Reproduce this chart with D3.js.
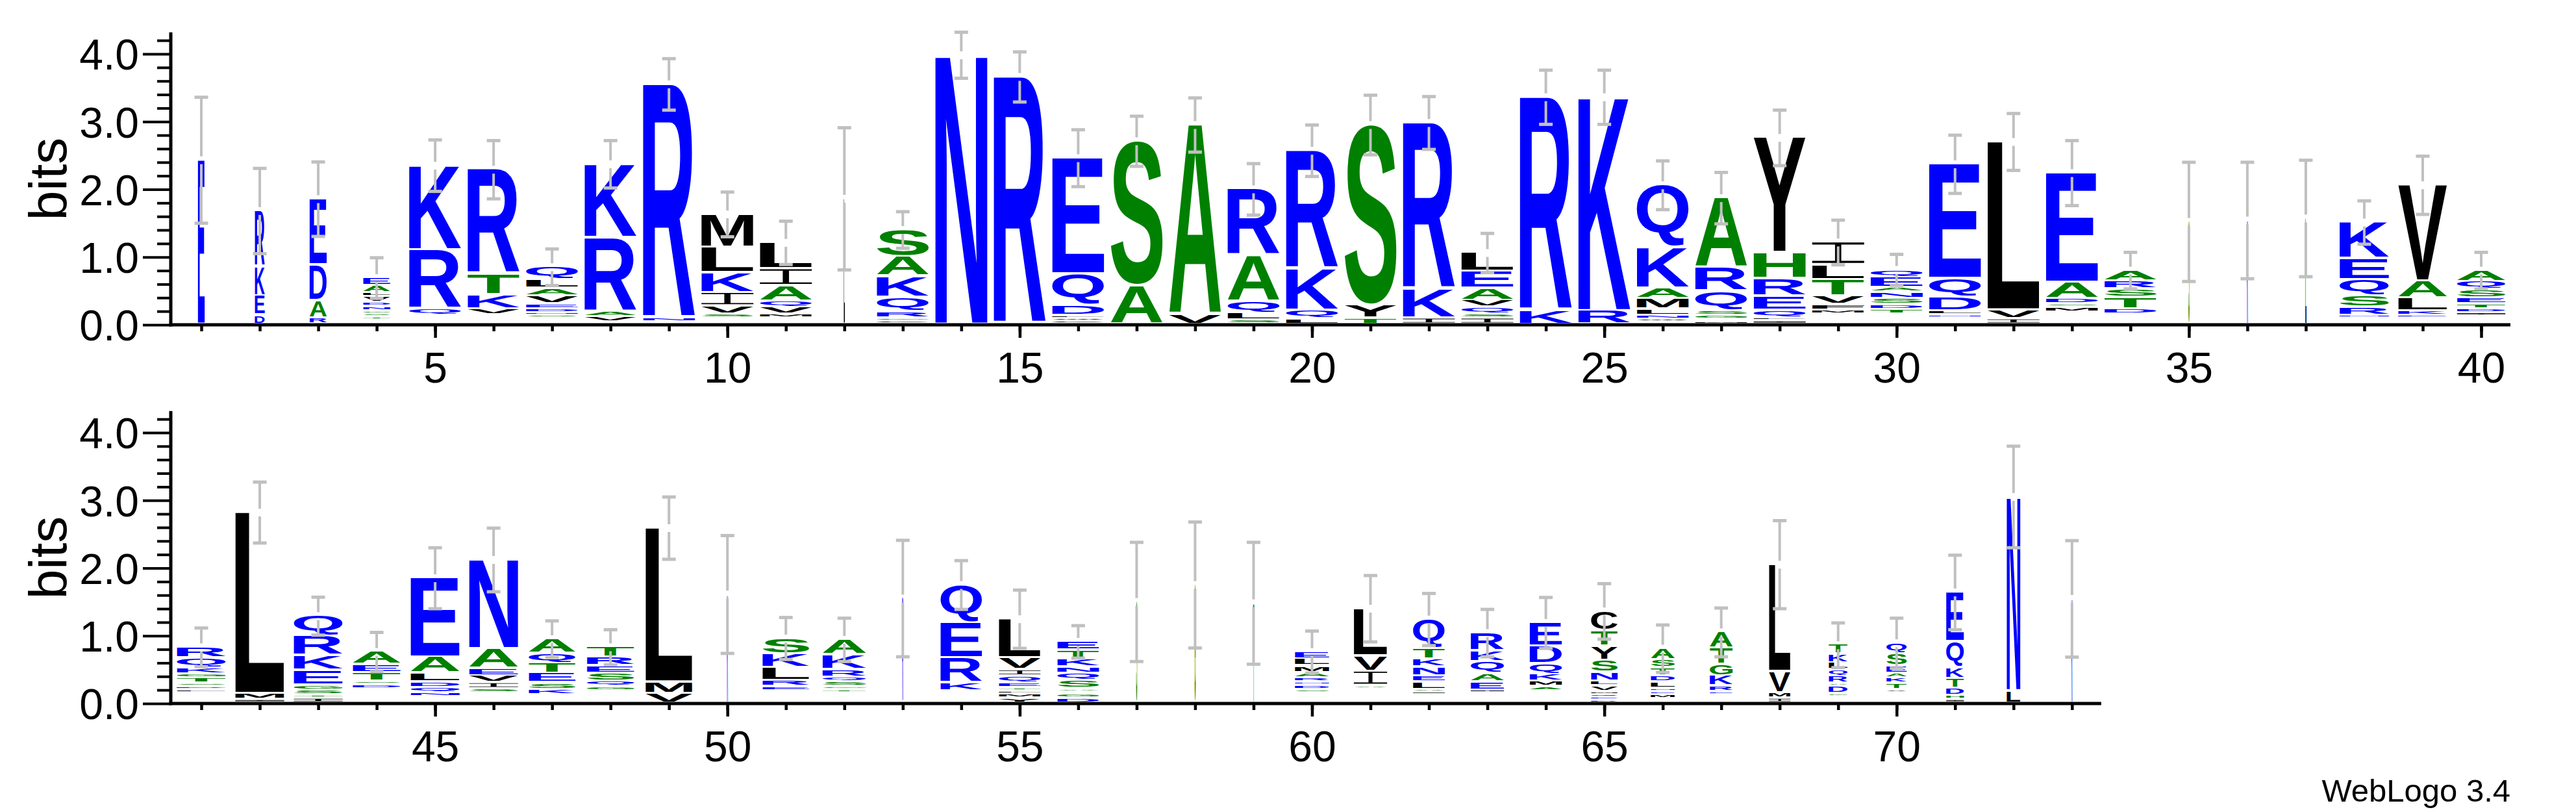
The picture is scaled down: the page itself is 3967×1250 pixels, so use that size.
<!DOCTYPE html>
<html>
<head>
<meta charset="utf-8">
<script src="https://cdn.jsdelivr.net/npm/d3@7"></script>
<style>
    body { margin: 0; background: #fff; }
    svg text { font-family: "Liberation Sans", Arial, sans-serif; }
</style>
</head>
<body>
<div id="data-visualisation"></div>
<script>
//
// Sequence logo (WebLogo style), two rows of positions
//

// Letters of each column, bottom to top
const stackLetters = [
    "E", "DEKR", "RADE", "CWTSGNDVLAE", "CWFPQRK", "CWFPVKTR", "CWPSNDEVALQ", "CVARK", "CNR", "CWFSVIKLM",
    "CWFMVQAIL", "L", "CGRQKAS", "N", "R", "CWLDQE", "AS", "VA", "SLQAR", "LQKR",
    "TYS", "IKR", "ISQVAEL", "KR", "RK", "CWNLMAKQ", "MIGSQRA", "ILQERHY", "CWPHGMFVTLI", "CWPHGTDSNAEQ",
    "CWPNLDQE", "IVL", "CWPHGYMSDAE", "CWPHGDTSRA", "S", "K", "L", "CWPNRSQEK", "CWPEKLAV", "CWPHIDTESQA",
    "CWPHYLDSTGKQR", "IML", "ITSGEKRQ", "CWPHYFMDSTEA", "CWPNQDLAE", "CWPHYSIVEAN", "CWPHKSETQA", "CWPHYFGQSERT", "VML", "K",
    "CWPHYFERLKS", "CWPHYTGSQRKA", "R", "CWPHYFKREQ", "YMFTEQIVL", "DGCASQNKTE", "S", "G", "T", "CWPHYSDNRAMLE",
    "CWPHYFGAIVL", "CWPHIALENKTQ", "CWPHYIEAQKR", "CWPHYFAMKQDE", "DEQMVLNSYTC", "CWMENLDTSA", "CWPHERKGTA", "IMVL", "CWPGDARQLKT", "CWPHYVTKAESQ",
    "IHDTKQE", "LN", "K"
];

// Height of each letter in bits, same order
const stackBits = [
    [2.43], [0.135, 0.285, 0.43, 0.83], [0.09, 0.26, 0.53, 0.975],
    [0.03, 0.035, 0.045, 0.04, 0.05, 0.06, 0.06, 0.09, 0.055, 0.11, 0.115],
    [0.035, 0.035, 0.035, 0.035, 0.09, 0.87, 1.25],
    [0.034, 0.034, 0.034, 0.033, 0.095, 0.21, 0.30, 1.55],
    [0.03, 0.03, 0.03, 0.04, 0.04, 0.06, 0.07, 0.12, 0.11, 0.13, 0.19],
    [0.03, 0.08, 0.08, 1.09, 1.09], [0.03, 0.055, 3.465],
    [0.03, 0.03, 0.035, 0.055, 0.12, 0.20, 0.29, 0.38, 0.49],
    [0.03, 0.03, 0.03, 0.06, 0.10, 0.09, 0.23, 0.25, 0.39],
    [1.86], [0.04, 0.05, 0.10, 0.21, 0.31, 0.29, 0.40], [3.98], [3.66],
    [0.04, 0.04, 0.05, 0.14, 0.47, 1.72], [0.57, 2.14], [0.14, 2.81],
    [0.06, 0.10, 0.18, 0.68, 0.98], [0.08, 0.13, 0.61, 1.75],
    [0.09, 0.19, 2.67], [0.09, 0.43, 2.46], [0.09, 0.06, 0.10, 0.10, 0.18, 0.25, 0.28],
    [0.20, 3.16], [0.20, 3.16],
    [0.035, 0.04, 0.055, 0.095, 0.15, 0.16, 0.60, 0.925],
    [0.04, 0.03, 0.06, 0.07, 0.29, 0.35, 1.03],
    [0.05, 0.04, 0.12, 0.21, 0.26, 0.38, 1.70],
    [0.03, 0.03, 0.03, 0.03, 0.03, 0.06, 0.08, 0.13, 0.24, 0.22, 0.335],
    [0.03, 0.03, 0.03, 0.03, 0.03, 0.07, 0.07, 0.09, 0.09, 0.07, 0.15, 0.12],
    [0.03, 0.03, 0.03, 0.05, 0.06, 0.20, 0.28, 1.69], [0.08, 0.13, 2.49],
    [0.03, 0.03, 0.03, 0.03, 0.03, 0.03, 0.07, 0.05, 0.08, 0.24, 1.62],
    [0.03, 0.03, 0.03, 0.03, 0.03, 0.08, 0.17, 0.12, 0.12, 0.16],
    [1.52], [1.54], [1.57],
    [0.03, 0.03, 0.03, 0.04, 0.12, 0.17, 0.24, 0.31, 0.54],
    [0.03, 0.03, 0.03, 0.04, 0.07, 0.19, 0.25, 1.42],
    [0.03, 0.03, 0.03, 0.03, 0.05, 0.06, 0.07, 0.09, 0.12, 0.12, 0.17],
    [0.03, 0.03, 0.03, 0.03, 0.03, 0.05, 0.04, 0.05, 0.08, 0.06, 0.09, 0.15, 0.16],
    [0.05, 0.09, 2.68], [0.07, 0.05, 0.07, 0.07, 0.22, 0.22, 0.29, 0.30],
    [0.03, 0.03, 0.03, 0.03, 0.03, 0.03, 0.03, 0.06, 0.05, 0.13, 0.12, 0.19],
    [0.03, 0.03, 0.03, 0.06, 0.08, 0.08, 0.13, 0.24, 1.17],
    [0.03, 0.03, 0.03, 0.03, 0.03, 0.06, 0.09, 0.10, 0.11, 0.29, 1.32],
    [0.03, 0.03, 0.03, 0.03, 0.08, 0.10, 0.14, 0.15, 0.14, 0.22],
    [0.03, 0.03, 0.03, 0.03, 0.03, 0.03, 0.06, 0.08, 0.12, 0.11, 0.13, 0.15],
    [0.14, 0.17, 2.28], [1.61],
    [0.03, 0.03, 0.03, 0.03, 0.03, 0.03, 0.06, 0.09, 0.19, 0.20, 0.24],
    [0.03, 0.03, 0.03, 0.03, 0.03, 0.05, 0.04, 0.07, 0.07, 0.11, 0.22, 0.23],
    [1.55], [0.03, 0.03, 0.03, 0.03, 0.03, 0.03, 0.12, 0.37, 0.52, 0.56],
    [0.07, 0.06, 0.05, 0.05, 0.07, 0.10, 0.09, 0.18, 0.575],
    [0.07, 0.06, 0.03, 0.05, 0.12, 0.11, 0.09, 0.12, 0.13, 0.13],
    [1.50], [1.75], [1.48],
    [0.03, 0.03, 0.03, 0.03, 0.03, 0.05, 0.06, 0.05, 0.06, 0.08, 0.10, 0.10, 0.11],
    [0.03, 0.03, 0.03, 0.03, 0.03, 0.03, 0.03, 0.05, 0.21, 0.23, 0.70],
    [0.03, 0.03, 0.03, 0.03, 0.04, 0.04, 0.11, 0.09, 0.13, 0.12, 0.16, 0.43],
    [0.03, 0.03, 0.03, 0.03, 0.03, 0.04, 0.12, 0.12, 0.18, 0.16, 0.27],
    [0.03, 0.03, 0.03, 0.03, 0.03, 0.03, 0.06, 0.08, 0.10, 0.16, 0.26, 0.35],
    [0.04, 0.04, 0.04, 0.05, 0.08, 0.07, 0.13, 0.18, 0.21, 0.23, 0.29],
    [0.03, 0.03, 0.06, 0.05, 0.05, 0.09, 0.09, 0.12, 0.12, 0.17],
    [0.03, 0.03, 0.03, 0.03, 0.05, 0.08, 0.15, 0.17, 0.24, 0.24],
    [0.07, 0.08, 0.32, 1.58],
    [0.03, 0.03, 0.03, 0.05, 0.10, 0.05, 0.11, 0.09, 0.10, 0.13, 0.14],
    [0.03, 0.03, 0.03, 0.03, 0.03, 0.05, 0.09, 0.08, 0.07, 0.11, 0.18, 0.16],
    [0.05, 0.06, 0.11, 0.14, 0.16, 0.39, 0.73], [0.18, 2.87], [1.545]
];

// Fraction of the full stack width (columns with many gaps are narrower)
const stackWidth = [
    0.13, 0.19, 0.33, 0.52, 1, 1, 1, 1, 1, 1,
    1, 0.02, 1, 1, 1, 1, 1, 1, 1, 1,
    1, 1, 1, 1, 1, 1, 1, 1, 1, 1,
    1, 1, 1, 1, 0.02, 0.02, 0.02, 0.95, 0.94, 0.93,
    0.94, 0.94, 0.94, 0.92, 0.94, 0.94, 0.90, 0.91, 0.90, 0.02,
    0.90, 0.84, 0.02, 0.80, 0.80, 0.80, 0.02, 0.02, 0.02, 0.66,
    0.64, 0.61, 0.64, 0.62, 0.51, 0.46, 0.44, 0.41, 0.36, 0.39,
    0.34, 0.26, 0.02
];

// Half length of the error bar, in bits
const errorBits = [
    0.93, 0.63, 0.55, 0.30, 0.38, 0.43, 0.27, 0.35, 0.38, 0.33,
    0.32, 1.05, 0.27, 0.34, 0.37, 0.42, 0.37, 0.40, 0.38, 0.38,
    0.44, 0.39, 0.29, 0.40, 0.40, 0.36, 0.38, 0.41, 0.33, 0.23,
    0.43, 0.42, 0.48, 0.27, 0.88, 0.86, 0.86, 0.32, 0.43, 0.27,
    0.285, 0.45, 0.28, 0.29, 0.45, 0.47, 0.27, 0.26, 0.46, 0.87,
    0.31, 0.32, 0.86, 0.36, 0.43, 0.24, 0.88, 0.93, 0.90, 0.31,
    0.49, 0.385, 0.35, 0.376, 0.41, 0.35, 0.36, 0.65, 0.33, 0.37,
    0.55, 0.75, 0.86
];

const yTicks = [0, 1, 2, 3, 4];
const yMinorTicks = d3.range(1, 22).map(d => d / 5).filter(d => d % 1 !== 0);

// Rows: first and last position on each line
const rowFirst = [1, 41];
const rowLast = [40, 73];

let width = 3967;
let height = 1250;
let fontFamily = '"Liberation Sans", Arial, sans-serif';

let svg = d3.select('#data-visualisation')
    .append('svg')
    .attr('width', width)
    .attr('height', height)
    .style('display', 'block');

svg.append('rect')
    .attr('width', width)
    .attr('height', height)
    .attr('fill', '#fff');

// Hydrophobicity colours
let colorOf = function(ch) {
    if ('RKDENQ'.includes(ch)) return '#0000ff';
    if ('SGHTAP'.includes(ch)) return '#008000';
    return '#000000';
};

// Ink box of each glyph, measured on a canvas
let ctx = document.createElement('canvas').getContext('2d');
ctx.font = 'bold 200px "Liberation Sans"';
let glyphBoxes = {};
let glyphBox = function(ch) {
    if (!glyphBoxes[ch]) {
        let m = ctx.measureText(ch);
        glyphBoxes[ch] = {
            left: m.actualBoundingBoxLeft,
            right: m.actualBoundingBoxRight,
            asc: m.actualBoundingBoxAscent,
            desc: m.actualBoundingBoxDescent
        };
    }
    return glyphBoxes[ch];
};

let fullWidth = 80;   // px of a full stack
let pad = 3.5;        // px left empty under each letter
let rowBase = [500, 1083];

rowFirst.forEach(function(first, r) {
    let last = rowLast[r];
    let base = rowBase[r];

    let x = d3.scaleLinear()
        .domain([first - 0.5, first + 39.5])
        .range([265, 3866]);

    let y = d3.scaleLinear()
        .domain([0, 4])
        .range([base, base - 417]);

    let positions = d3.range(first, last + 1);

    // Letter stacks
    let gLetters = svg.append('g');
    positions.forEach(function(p) {
        let i = p - 1;
        let w = stackWidth[i] * fullWidth;
        let x0 = x(p) - w / 2;
        let cum = 0;
        stackLetters[i].split('').forEach(function(ch, j) {
            let yBottom = y(cum);
            cum += stackBits[i][j];
            let yTop = y(cum);
            let h = (yBottom - yTop) - pad;
            if (h <= 0.2) return;
            if (ch === 'I') {
                let t = Math.max(h * 0.1, 0.8);
                let s = Math.max(w * 0.12, 0.8);
                let side = (w - s) / 2;
                gLetters.append('path')
                    .attr('d', 'M' + x0 + ',' + yTop + 'h' + w + 'v' + t + 'h' + (-side) +
                        'v' + (h - 2 * t) + 'h' + side + 'v' + t + 'h' + (-w) + 'v' + (-t) +
                        'h' + side + 'v' + (-(h - 2 * t)) + 'h' + (-side) + 'Z')
                    .attr('fill', colorOf(ch));
                return;
            }
            let b = glyphBox(ch);
            let sx = w / (b.left + b.right);
            let sy = h / (b.asc + b.desc);
            gLetters.append('text')
                .text(ch)
                .attr('font-size', 200)
                .attr('font-weight', 'bold')
                .attr('fill', colorOf(ch))
                .attr('transform', 'translate(' + x0 + ',' + yTop + ') scale(' + sx + ',' + sy + ') translate(' + b.left + ',' + b.asc + ')');
        });
    });

    // Error bars, centred on the top of each stack
    let gErr = svg.append('g')
        .attr('stroke', '#c0c0c0')
        .attr('fill', 'none');
    positions.forEach(function(p) {
        let i = p - 1;
        let top = d3.sum(stackBits[i]);
        let e = errorBits[i];
        let cx = x(p);
        let yt = y(top);
        gErr.append('line')
            .attr('x1', cx).attr('x2', cx)
            .attr('y1', y(top + e)).attr('y2', yt - 6)
            .attr('stroke-width', 4);
        gErr.append('line')
            .attr('x1', cx).attr('x2', cx)
            .attr('y1', yt + 6).attr('y2', y(top - e))
            .attr('stroke-width', 4);
        [top + e, top - e].forEach(function(v) {
            gErr.append('line')
                .attr('x1', cx - 10.5).attr('x2', cx + 10.5)
                .attr('y1', y(v)).attr('y2', y(v))
                .attr('stroke-width', 5);
        });
    });

    // Y axis
    let yAxis = svg.append('g')
        .attr('transform', 'translate(263,0)')
        .call(d3.axisLeft(y)
            .tickValues(yTicks)
            .tickFormat(d3.format('.1f'))
            .tickSize(43)
            .tickPadding(6))
        .attr('font-size', 66)
        .attr('font-family', fontFamily);
    yAxis.select('.domain').remove();
    yAxis.selectAll('line').attr('stroke', '#000').attr('stroke-width', 4);
    yAxis.selectAll('text').attr('fill', '#000').attr('dy', '0.36em');

    let yMinor = svg.append('g')
        .attr('transform', 'translate(263,0)')
        .call(d3.axisLeft(y)
            .tickValues(yMinorTicks)
            .tickFormat('')
            .tickSize(21));
    yMinor.select('.domain').remove();
    yMinor.selectAll('line').attr('stroke', '#000').attr('stroke-width', 4);

    svg.append('line')
        .attr('x1', 263).attr('x2', 263)
        .attr('y1', y(4.32)).attr('y2', base + 2.5)
        .attr('stroke', '#000')
        .attr('stroke-width', 5);

    svg.append('text')
        .text('bits')
        .attr('font-size', 82)
        .attr('text-anchor', 'middle')
        .attr('transform', 'translate(102,' + (y(2) - 16) + ') rotate(-90)');

    // X axis
    let xMinor = svg.append('g')
        .attr('transform', 'translate(0,' + base + ')')
        .call(d3.axisBottom(x)
            .tickValues(positions)
            .tickFormat('')
            .tickSize(10));
    xMinor.select('.domain').remove();
    xMinor.selectAll('line').attr('stroke', '#000').attr('stroke-width', 4.5);

    let xMajor = svg.append('g')
        .attr('transform', 'translate(0,' + base + ')')
        .call(d3.axisBottom(x)
            .tickValues(positions.filter(p => p % 5 === 0))
            .tickFormat(d3.format('d'))
            .tickSize(20)
            .tickPadding(22))
        .attr('font-size', 66)
        .attr('font-family', fontFamily);
    xMajor.select('.domain').remove();
    xMajor.selectAll('line').attr('stroke', '#000').attr('stroke-width', 4.5);
    xMajor.selectAll('text').attr('fill', '#000');

    svg.append('line')
        .attr('x1', 260.5).attr('x2', x(last + 0.5))
        .attr('y1', base).attr('y2', base)
        .attr('stroke', '#000')
        .attr('stroke-width', 5);
});

svg.append('text')
    .text('WebLogo 3.4')
    .attr('x', 3866)
    .attr('y', 1234)
    .attr('font-size', 49)
    .attr('text-anchor', 'end');
</script>
</body>
</html>
